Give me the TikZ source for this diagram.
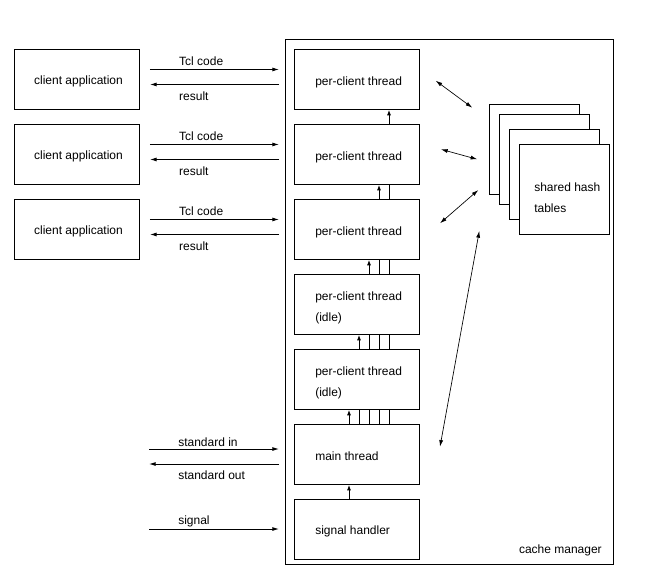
\documentclass[tikz,border=0pt]{standalone}
\usepackage{fontspec}
\setmainfont{Liberation Sans}
\usetikzlibrary{arrows.meta,calc}
\begin{document}
\begin{tikzpicture}[x=0.75pt,y=-0.75pt,
 every node/.style={font=\fontsize{9}{15.75}\selectfont},
 box/.style={draw,line width=0.7pt,minimum width=93.75pt,minimum height=45pt,inner sep=0pt,anchor=north west,fill=white},
 hbox/.style={draw,line width=0.7pt,minimum width=67.5pt,minimum height=67.5pt,inner sep=0pt,anchor=north west,fill=white},
 lbl/.style={anchor=west,inner sep=0pt,align=left},
 arr/.style={line width=0.7pt,-{Latex[length=5pt,width=3pt]}},
 varr/.style={line width=0.7pt,-{Latex[length=4pt,width=3pt]}},
 vline/.style={line width=0.7pt},
 darr/.style={line width=0.5pt,{Latex[length=5pt,width=3pt]}-{Latex[length=5pt,width=3pt]}},
 ]
\fill[white] (0,0) rectangle (659,579);
\useasboundingbox (0,0) rectangle (659,579);

% cache manager frame
\node[draw,line width=0.7pt,minimum width=246pt,minimum height=393.75pt,inner sep=0pt,anchor=north west] (cm) at (285,39) {};
\node[anchor=east,inner sep=0pt] (cml) at (602,550) {cache manager};

% clients
\node[box] (c1) at (14,49) {};
\node[box] (c2) at (14,124) {};
\node[box] (c3) at (14,199) {};
\node[inner sep=0pt] (c1t) at ($(c1.center)+(1.5,2)$) {client application};
\node[inner sep=0pt] (c2t) at ($(c2.center)+(1.5,2)$) {client application};
\node[inner sep=0pt] (c3t) at ($(c3.center)+(1.5,2)$) {client application};

% threads
\node[box] (t1) at (294,49) {};
\node[box] (t2) at (294,124) {};
\node[box] (t3) at (294,199) {};
\node[box] (t4) at (294,274) {};
\node[box] (t5) at (294,349) {};
\node[box] (mt) at (294,424) {};
\node[box] (sh) at (294,499) {};
\node[lbl] (t1t) at ($(t1.west)+(21,3)$) {per-client thread};
\node[lbl] (t2t) at ($(t2.west)+(21,3)$) {per-client thread};
\node[lbl] (t3t) at ($(t3.west)+(21,3)$) {per-client thread};
\node[lbl] (t4t) at ($(t4.west)+(21,3.5)$) {per-client thread\\(idle)};
\node[lbl] (t5t) at ($(t5.west)+(21,3.5)$) {per-client thread\\(idle)};
\node[lbl] (mtt) at ($(mt.west)+(21,2)$) {main thread};
\node[lbl] (sht) at ($(sh.west)+(21,2)$) {signal handler};

% hash tables
\node[hbox] (h1) at (489,104) {};
\node[hbox] (h2) at (499,114) {};
\node[hbox] (h3) at (509,129) {};
\node[hbox] (h4) at (519,144) {};
\node[lbl] (h4t) at ($(h4.west)+(15,8)$) {shared hash\\tables};

% client <-> thread arrows
\foreach \c in {c1,c2,c3}{
  \draw[arr] ($(\c.east)+(10,-10)$) -- ($(cm.west |- \c.east)+(-6,-10)$);
  \draw[arr] ($(cm.west |- \c.east)+(-6,5)$) -- ($(\c.east)+(10,5)$);
}
\node[lbl] (l1a) at ($(c1.east)+(39,-18)$) {Tcl code};
\node[lbl] (l1b) at ($(c1.east)+(39,17)$) {result};
\node[lbl] (l2a) at ($(c2.east)+(39,-18)$) {Tcl code};
\node[lbl] (l2b) at ($(c2.east)+(39,17)$) {result};
\node[lbl] (l3a) at ($(c3.east)+(39,-18)$) {Tcl code};
\node[lbl] (l3b) at ($(c3.east)+(39,17)$) {result};

% stdin/stdout/signal
\coordinate (ext1) at (149,454);
\coordinate (ext2) at (149,529);
\draw[arr] ($(ext1)+(0,-5)$) -- ($(cm.west |- ext1)+(-6,-5)$);
\draw[arr] ($(cm.west |- ext1)+(-6,10)$) -- ($(ext1)+(0,10)$);
\draw[arr] (ext2) -- ($(cm.west |- ext2)+(-6,0)$);
\node[lbl] (lsi) at ($(ext1)+(29,-12)$) {standard in};
\node[lbl] (lso) at ($(ext1)+(29,21)$) {standard out};
\node[lbl] (lsg) at ($(ext2)+(29,-8)$) {signal};

% vertical connectors between threads
\draw[varr] ($(t2.north west)+(95,0)$) -- ($(t1.south west)+(95,0)$);
\draw[varr] ($(t3.north west)+(85,0)$) -- ($(t2.south west)+(85,0)$);
\foreach \o in {95}{\draw[vline] ($(t3.north west)+(\o,0)$) -- ($(t2.south west)+(\o,0)$);}
\draw[varr] ($(t4.north west)+(75,0)$) -- ($(t3.south west)+(75,0)$);
\foreach \o in {85,95}{\draw[vline] ($(t4.north west)+(\o,0)$) -- ($(t3.south west)+(\o,0)$);}
\draw[varr] ($(t5.north west)+(65,0)$) -- ($(t4.south west)+(65,0)$);
\foreach \o in {75,85,95}{\draw[vline] ($(t5.north west)+(\o,0)$) -- ($(t4.south west)+(\o,0)$);}
\draw[varr] ($(mt.north west)+(55,0)$) -- ($(t5.south west)+(55,0)$);
\foreach \o in {65,75,85,95}{\draw[vline] ($(mt.north west)+(\o,0)$) -- ($(t5.south west)+(\o,0)$);}
\draw[varr] ($(sh.north west)+(55,0)$) -- ($(mt.south west)+(55,0)$);

% thread <-> hash table arrows
\coordinate (d1a) at (435.7,80.7);
\coordinate (d1b) at (472.3,107.7);
\coordinate (d2a) at (441,149.3);
\coordinate (d2b) at (477.3,159.3);
\coordinate (d3a) at (440,223.3);
\coordinate (d3b) at (478.3,190);
\coordinate (d4a) at (440,446.7);
\coordinate (d4b) at (479.3,231);
\draw[darr] (d1a) -- (d1b);
\draw[darr] (d2a) -- (d2b);
\draw[darr] (d3a) -- (d3b);
\draw[darr] (d4a) -- (d4b);
\end{tikzpicture}
\end{document}
